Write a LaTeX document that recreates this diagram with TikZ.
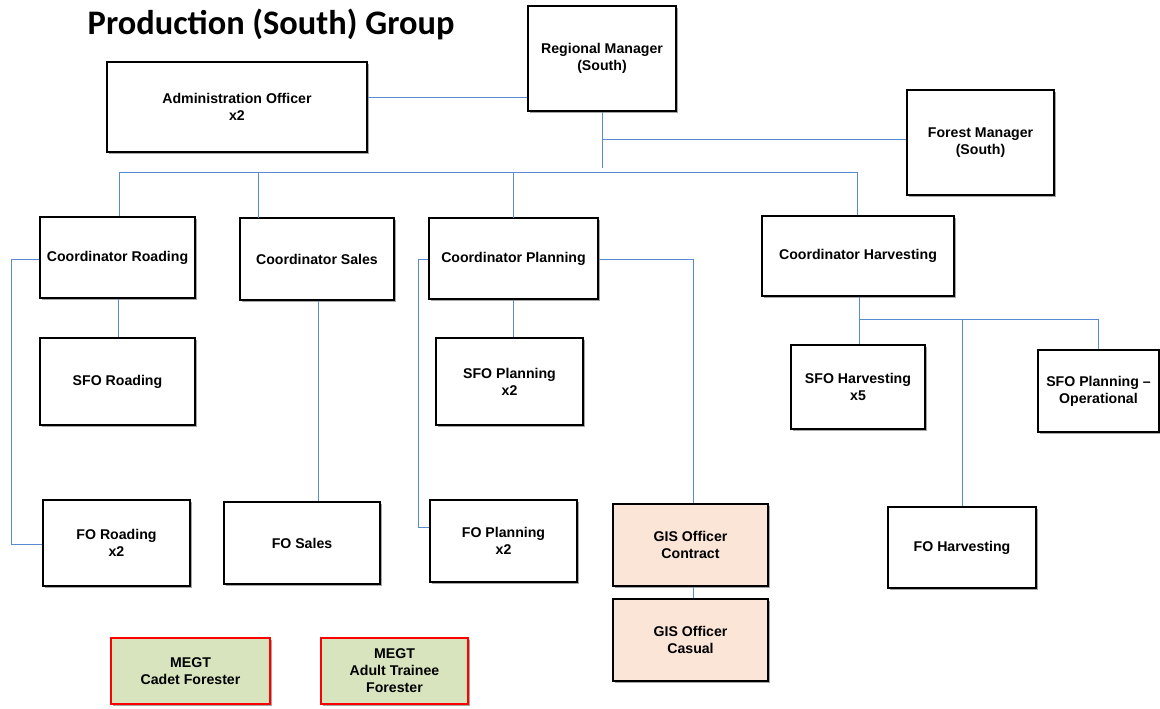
\documentclass[tikz,border=0pt]{standalone}
\usepackage{fontspec}
\setmainfont{Liberation Sans}
\newfontfamily\titlefont{Carlito}
\usetikzlibrary{shadows}
\definecolor{lineblue}{HTML}{5A8AD0}
\definecolor{peach}{HTML}{FBE5D6}
\definecolor{megtgreen}{HTML}{D7E4BD}
\begin{document}
\begin{tikzpicture}[x=0.75pt,y=-0.75pt,
  bw/.style={minimum width=#1*0.75pt},
  bh/.style={minimum height=#1*0.75pt},
  box/.style={draw=black,line width=0.8pt,fill=white,inner sep=0pt,align=center,
    font=\fontsize{10.6}{12.8}\selectfont\bfseries,
    drop shadow={shadow xshift=1.6pt,shadow yshift=-1.6pt,opacity=0.35,fill=black}},
  gis/.style={box,fill=peach},
  megt/.style={box,fill=megtgreen,draw=red},
  conn/.style={draw=lineblue,line width=0.65pt}]
\useasboundingbox[fill=white] (0,0) rectangle (1160,709);
\node[anchor=west,font=\titlefont\fontsize{25.8}{30}\selectfont\bfseries] (title) at (83,24) {Production (South) Group};
% boxes
\node[box,bw=148,bh=105] (RM) at (602,58.5) {Regional Manager\\(South)};
\node[box,bw=260,bh=90] (AO) at (237,107) {Administration Officer\\x2};
\node[box,bw=147,bh=105] (FM) at (980.5,142.5) {Forest Manager\\(South)};
\node[box,bw=155,bh=81] (CR) at (117.5,257.5) {Coordinator Roading};
\node[box,bw=154,bh=82] (CS) at (317,259) {Coordinator Sales};
\node[box,bw=169,bh=81] (CP) at (513.5,258.5) {Coordinator Planning};
\node[box,bw=192,bh=80] (CH) at (858,256) {Coordinator Harvesting};
\node[box,bw=155,bh=87] (SR) at (117.5,381.5) {SFO Roading};
\node[box,bw=147,bh=87] (SP) at (509.5,381.5) {SFO Planning\\x2};
\node[box,bw=134,bh=84] (SH) at (858,387) {SFO Harvesting\\x5};
\node[box,bw=121,bh=82] (SPO) at (1098.5,391) {SFO Planning --\\Operational};
\node[box,bw=147,bh=86] (FR) at (116.5,543) {FO Roading\\x2};
\node[box,bw=156,bh=82] (FS) at (302,543) {FO Sales};
\node[box,bw=147,bh=82] (FP) at (503.5,541) {FO Planning\\x2};
\node[gis,bw=155,bh=82] (GC) at (690.5,545) {GIS Officer\\Contract};
\node[gis,bw=155,bh=82] (GK) at (690.5,640) {GIS Officer\\Casual};
\node[box,bw=148,bh=81] (FH) at (962,547.5) {FO Harvesting};
\node[megt,bw=159,bh=66] (M1) at (190.5,671) {MEGT\\Cadet Forester};
\node[megt,bw=147,bh=66] (M2) at (394.5,671) {MEGT\\Adult Trainee\\Forester};
% connector points
\coordinate (rmend) at (602,168);
\coordinate (fmj) at (602,139);
\coordinate (busL) at (119,172);
\coordinate (busR) at (857,172);
\coordinate (crL) at (11,259);
\coordinate (frL) at (11,544);
\coordinate (cpL) at (418,259);
\coordinate (fpL) at (418,527);
\coordinate (cpR) at (693,259);
\coordinate (chbus) at (859,319);
\coordinate (chbusR) at (1098,319);
% connectors
\draw[conn] (AO.east |- 0,97) -- (RM.west |- 0,97);
\draw[conn] (RM.south) -- (rmend);
\draw[conn] (fmj) -- (FM.west |- fmj);
\draw[conn] (busL) -- (busR);
\draw[conn] (busL) -- (busL |- CR.north);
\draw[conn] (258,172) -- (258,218);
\draw[conn] (513,172) -- (513,218);
\draw[conn] (busR) -- (busR |- CH.north);
\draw[conn] (CR.south -| 118,0) -- (SR.north -| 118,0);
\draw[conn] (CR.west |- crL) -- (crL) -- (frL) -- (FR.west |- frL);
\draw[conn] (CS.south -| 318,0) -- (FS.north -| 318,0);
\draw[conn] (CP.west |- cpL) -- (cpL) -- (fpL) -- (FP.west |- fpL);
\draw[conn] (CP.east |- cpR) -- (cpR) -- (cpR |- GC.north);
\draw[conn] (CP.south -| 513,0) -- (SP.north -| 513,0);
\draw[conn] (GC.south -| 693,0) -- (GK.north -| 693,0);
\draw[conn] (CH.south -| chbus) -- (chbus) -- (chbusR) -- (chbusR |- SPO.north);
\draw[conn] (chbus) -- (chbus |- SH.north);
\draw[conn] (962,319) -- (FH.north -| 962,0);
\end{tikzpicture}
\end{document}
